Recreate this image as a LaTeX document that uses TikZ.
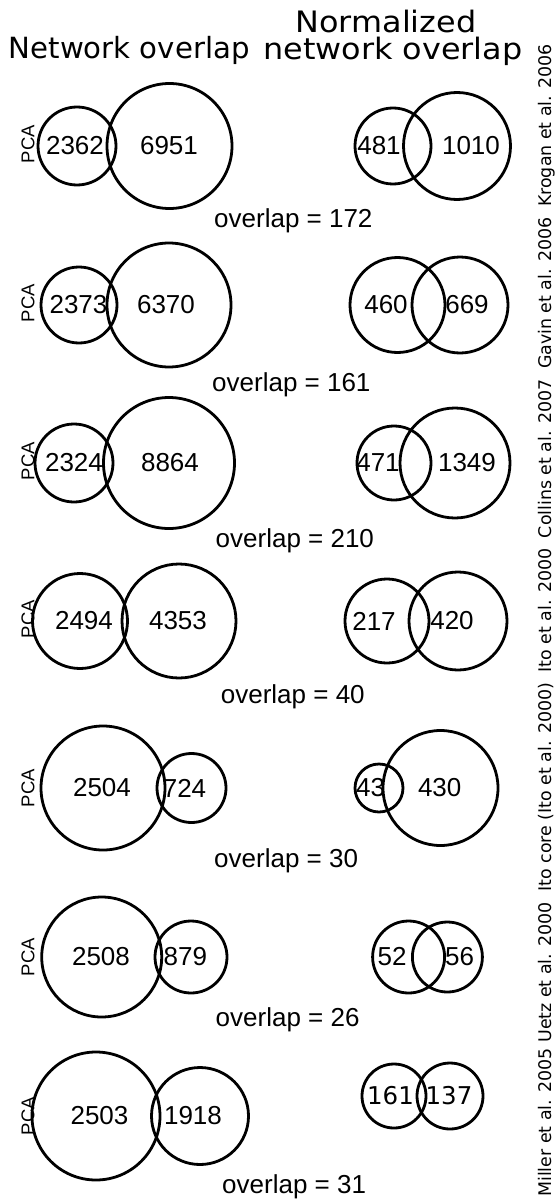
\documentclass[tikz,border=0pt]{standalone}
\usepackage{fontspec}
\setmainfont{Liberation Sans}
\newfontfamily\dvs{DejaVu Sans}
\begin{document}
\begin{tikzpicture}[x=1pt,y=-1pt,
  venn/.style={draw, circle, line width=2.8pt, minimum size=#1, inner sep=0pt},
  num/.style={font=\fontsize{26}{30}\selectfont, inner sep=0pt, anchor=center},
  numb/.style={font=\dvs\fontsize{24.5}{30}\selectfont, inner sep=0pt, anchor=center},
  ovl/.style={font=\fontsize{26}{30}\selectfont, inner sep=0pt, anchor=base west},
  pca/.style={font=\fontsize{18.5}{22}\selectfont, inner sep=0pt, rotate=90, anchor=center},
  ttl/.style={font=\dvs\fontsize{29.2}{34}\selectfont, inner sep=0pt},
  ttlr/.style={font=\dvs\fontsize{29.5}{34}\selectfont, inner sep=0pt, xscale=1.08},
  side/.style={font=\dvs\fontsize{17.4}{20}\selectfont, inner sep=0pt, rotate=90, anchor=base west}]
\useasboundingbox (0,0) rectangle (556,1201);
% titles
\node[ttl, anchor=base west] (t1) at (8.6,59) {Network overlap};
\node[ttlr, anchor=base] (t2) at (386,33) {Normalized};
\node[ttlr, anchor=base] (t3) at (393,60) {network overlap};
% side label
\node[side] (sd) at (551,1197) {Miller et al. 2005 Uetz et al. 2000\hspace{0.6em}Ito core (Ito et al. 2000)\hspace{0.6em}Ito et al. 2000\hspace{0.6em}Collins et al. 2007\hspace{0.6em}Gavin et al. 2006\hspace{0.6em}Krogan et al. 2006};
% row 1
\node[pca] (p1) at (28,144) {PCA};
\node[venn=78pt] (a1) at (77,146) {};
\node[venn=125pt] (b1) at (169.5,146) {};
\node[num] (na1) at (75,146) {2362};
\node[num] (nb1) at (169,146) {6951};
\node[venn=76pt] (c1) at (393,146) {};
\node[venn=107pt] (d1) at (457,146) {};
\node[num] (nc1) at (379,146) {481};
\node[num] (nd1) at (471,146) {1010};
\node[ovl] (o1) at (214,227) {overlap = 172};
% row 2
\node[pca] (p2) at (28,303) {PCA};
\node[venn=76pt] (a2) at (79,305) {};
\node[venn=124pt] (b2) at (169,305) {};
\node[num] (na2) at (78.5,305) {2373};
\node[num] (nb2) at (166,305) {6370};
\node[venn=95pt] (c2) at (397.5,305) {};
\node[venn=96pt] (d2) at (460,305) {};
\node[num] (nc2) at (386,305) {460};
\node[num] (nd2) at (467,305) {669};
\node[ovl] (o2) at (212,391) {overlap = 161};
% row 3
\node[pca] (p3) at (28,461) {PCA};
\node[venn=78pt] (a3) at (74,463) {};
\node[venn=131pt] (b3) at (169,463) {};
\node[num] (na3) at (74,463) {2324};
\node[num] (nb3) at (170,463) {8864};
\node[venn=74pt] (c3) at (394,463) {};
\node[venn=110pt] (d3) at (455,463) {};
\node[num] (nc3) at (378,463) {471};
\node[num] (nd3) at (467,463) {1349};
\node[ovl] (o3) at (215.5,547) {overlap = 210};
% row 4
\node[pca] (p4) at (28,619) {PCA};
\node[venn=95pt] (a4) at (80,621) {};
\node[venn=114pt] (b4) at (179,621) {};
\node[num] (na4) at (84,621) {2494};
\node[num] (nb4) at (178,621) {4353};
\node[venn=84pt] (c4) at (387,621) {};
\node[venn=98pt] (d4) at (458,621) {};
\node[num] (nc4) at (374,621) {217};
\node[num] (nd4) at (452,621) {420};
\node[ovl] (o4) at (220.7,703) {overlap = 40};
% row 5
\node[pca] (p5) at (28,788) {PCA};
\node[venn=124pt] (a5) at (103,788) {};
\node[venn=69pt] (b5) at (191.5,788) {};
\node[num] (na5) at (102,788) {2504};
\node[num] (nb5) at (184.5,788) {724};
\node[venn=48pt] (c5) at (379,788) {};
\node[venn=115pt] (d5) at (440.5,788) {};
\node[num] (nc5) at (370.7,788) {43};
\node[num] (nd5) at (439.7,788) {430};
\node[ovl] (o5) at (214,867) {overlap = 30};
% row 6
\node[pca] (p6) at (28,957) {PCA};
\node[venn=120pt] (a6) at (101.7,957) {};
\node[venn=72pt] (b6) at (191,957) {};
\node[num] (na6) at (101,957) {2508};
\node[num] (nb6) at (185.3,957) {879};
\node[venn=72pt] (c6) at (408.6,957) {};
\node[venn=70pt] (d6) at (447.4,957) {};
\node[num] (nc6) at (392,957) {52};
\node[num] (nd6) at (459.5,957) {56};
\node[ovl] (o6) at (215.5,1026) {overlap = 26};
% row 7
\node[pca] (p7) at (28,1116) {PCA};
\node[venn=128pt] (a7) at (96,1116) {};
\node[venn=97pt] (b7) at (200,1116) {};
\node[num] (na7) at (99.5,1116) {2503};
\node[num] (nb7) at (193,1116) {1918};
\node[venn=64pt] (c7) at (394,1096) {};
\node[venn=66pt] (d7) at (450,1096) {};
\node[numb] (nc7) at (390.5,1096) {161};
\node[numb] (nd7) at (449,1096) {137};
\node[ovl] (o7) at (222,1193) {overlap = 31};
\end{tikzpicture}
\end{document}
